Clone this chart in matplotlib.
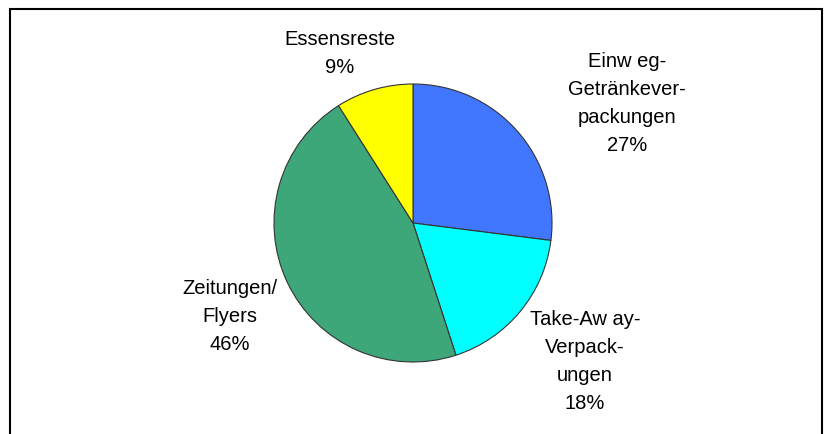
import matplotlib.pyplot as plt

labels = ["Einw eg-\nGetränkever-\npackungen", "Take-Aw ay-\nVerpack-\nungen", "Zeitungen/\nFlyers", "Essensreste"]
values = [27, 18, 46, 9]
colors = ["#4177FF", "#00FFFF", "#3DA77A", "#FFFF00"]

# label centres in pixels (x, y of first line from top)
label_pos = [(627, 60), (585, 318), (230, 287), (340, 38)]

plt.rcParams["font.family"] = ["Liberation Sans", "DejaVu Sans"]

fig = plt.figure(figsize=(8.32, 4.34), dpi=100)
ax = fig.add_axes([0, 0, 1, 1])

# pie (y axis inverted -> counterclock=True draws clockwise on screen)
ax.pie(values, colors=colors, startangle=-90, counterclock=True,
       center=(413, 223), radius=139, frame=True,
       wedgeprops=dict(edgecolor="#333333", linewidth=0.8))
ax.set_xlim(0, 832)
ax.set_ylim(434, 0)
ax.set_aspect("equal")
ax.axis("off")

for lab, v, (x, y) in zip(labels, values, label_pos):
    ax.text(x, y - 8, lab + "\n" + str(v) + "%", ha="center", va="top",
            fontsize=14.5, linespacing=1.6, color="black")

# frame (bottom edge cut off)
ax.plot([10, 10, 822, 822], [434, 9, 9, 434], color="black", linewidth=1.5,
        solid_joinstyle="miter")

plt.savefig("out.png", dpi=100)
